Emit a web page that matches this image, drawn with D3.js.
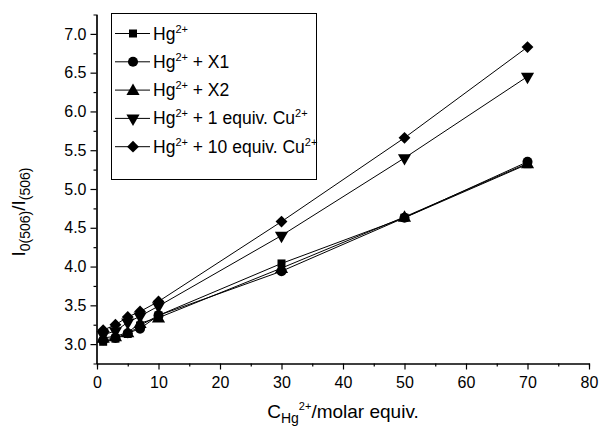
<!DOCTYPE html>
<html>
<head>
<meta charset="utf-8">
<script src="https://cdnjs.cloudflare.com/ajax/libs/d3/7.8.5/d3.min.js"></script>
<style>
	body { margin: 0; background: #fff; }
	svg { display: block; font-family: "Liberation Sans", Arial, sans-serif; }
	.axis path, .axis line { stroke: #000; stroke-width: 1.2; }
	.axis text { font-size: 16px; fill: #000; }
</style>
</head>
<body>
<div id="chart"></div>
<script>
// equivalents of Hg2+ added
const equiv = [1, 3, 5, 7, 10, 30, 50, 70];

const hg = [3.03, 3.07, 3.13, 3.24, 3.37, 4.04, 4.63, 5.32];
const hg_x1 = [3.05, 3.08, 3.14, 3.20, 3.37, 3.94, 4.63, 5.35];
const hg_x2 = [3.08, 3.10, 3.15, 3.27, 3.34, 3.98, 4.64, 5.33];
const hg_cu1 = [3.12, 3.17, 3.28, 3.36, 3.49, 4.40, 5.40, 6.45];
const hg_cu10 = [3.18, 3.25, 3.35, 3.42, 3.55, 4.58, 5.66, 6.83];

const x_ticks = [0, 10, 20, 30, 40, 50, 60, 70, 80];
const y_ticks = [3.0, 3.5, 4.0, 4.5, 5.0, 5.5, 6.0, 6.5, 7.0];

const series = [
	{ label: [["Hg", ""], ["2+", "sup"]], values: hg, symbol: d3.symbolSquare, size: 64 },
	{ label: [["Hg", ""], ["2+", "sup"], [" + X1", ""]], values: hg_x1, symbol: d3.symbolCircle, size: 80 },
	{ label: [["Hg", ""], ["2+", "sup"], [" + X2", ""]], values: hg_x2, symbol: d3.symbolTriangle, size: 75, dy: 1 },
	{ label: [["Hg", ""], ["2+", "sup"], [" + 1 equiv. Cu", ""], ["2+", "sup"]], values: hg_cu1, symbol: d3.symbolTriangle, size: 75, rot: 180 },
	{ label: [["Hg", ""], ["2+", "sup"], [" + 10 equiv. Cu", ""], ["2+", "sup"]], values: hg_cu10, symbol: d3.symbolSquare, size: 70, rot: 45 }
];

const width = 603, height = 433;
let svg = d3.select("#chart").append("svg").attr("width", width).attr("height", height);

let x = d3.scaleLinear().domain([0, 80]).range([97, 589]);
let y = d3.scaleLinear().domain([2.75, 7.25]).range([363.5, 14.5]);

// minor ticks first, then the labelled ones
svg.append("g").attr("class", "axis")
	.attr("transform", "translate(0,363.5)")
	.call(d3.axisBottom(x).tickValues(d3.range(5, 80, 10)).tickSize(3).tickFormat(""));
svg.append("g").attr("class", "axis")
	.attr("transform", "translate(0,363.5)")
	.call(d3.axisBottom(x).tickValues(x_ticks).tickSize(6).tickSizeOuter(0).tickPadding(7).tickFormat(d3.format("d")));

svg.append("g").attr("class", "axis")
	.attr("transform", "translate(96.5,0)")
	.call(d3.axisLeft(y).tickValues(d3.range(3.25, 7.25, 0.5)).tickSize(3).tickFormat(""));
svg.append("g").attr("class", "axis")
	.attr("transform", "translate(96.5,0)")
	.call(d3.axisLeft(y).tickValues(y_ticks).tickSize(6).tickSizeOuter(0).tickPadding(4).tickFormat(d3.format(".1f")));

let line = d3.line().x((d, i) => x(equiv[i])).y(d => y(d));

function marker(s) {
	return d3.symbol().type(s.symbol).size(s.size)();
}
function markerTransform(s, px, py) {
	return `translate(${px},${py + (s.dy || 0)})` + (s.rot ? ` rotate(${s.rot})` : "");
}

series.forEach(s => {
	svg.append("path").attr("d", line(s.values))
		.attr("fill", "none").attr("stroke", "#000").attr("stroke-width", 1);
	svg.selectAll(null).data(s.values).enter().append("path")
		.attr("d", marker(s))
		.attr("transform", (d, i) => markerTransform(s, x(equiv[i]), y(d)))
		.attr("fill", "#000");
});

// legend
let legend = svg.append("g");
legend.append("rect").attr("x", 111.5).attr("y", 13.5).attr("width", 205).attr("height", 166)
	.attr("fill", "#fff").attr("stroke", "#000").attr("stroke-width", 1);
series.forEach((s, i) => {
	let ly = 33.5 + i * 28.3;
	legend.append("line").attr("x1", 115).attr("x2", 150).attr("y1", ly).attr("y2", ly)
		.attr("stroke", "#000").attr("stroke-width", 1);
	legend.append("path").attr("d", marker(s)).attr("transform", markerTransform(s, 133, ly)).attr("fill", "#000");
	let t = legend.append("text").attr("x", 153).attr("y", ly + 6).attr("font-size", 17.5);
	let shifted = false;
	s.label.forEach(p => {
		let ts = t.append("tspan").text(p[0]);
		if (p[1] == "sup") {
			ts.attr("font-size", 11).attr("dy", -7);
			shifted = true;
		} else if (shifted) {
			ts.attr("dy", 7);
			shifted = false;
		}
	});
});

// x title: C_Hg^2+ /molar equiv.
let xt = svg.append("text").attr("x", 343).attr("y", 418).attr("text-anchor", "middle").attr("font-size", 19);
xt.append("tspan").text("C");
xt.append("tspan").text("Hg").attr("font-size", 14).attr("dy", 5);
xt.append("tspan").text("2+").attr("font-size", 11).attr("dy", -13);
xt.append("tspan").text("/molar equiv.").attr("dy", 8);

// y title: I0(506)/I(506)
let yt = svg.append("text").attr("transform", "translate(25,212) rotate(-90)")
	.attr("text-anchor", "middle").attr("font-size", 19);
yt.append("tspan").text("I");
yt.append("tspan").text("0(506)").attr("font-size", 14).attr("dy", 5);
yt.append("tspan").text("/I").attr("dy", -5);
yt.append("tspan").text("(506)").attr("font-size", 14).attr("dy", 5);
</script>
</body>
</html>
